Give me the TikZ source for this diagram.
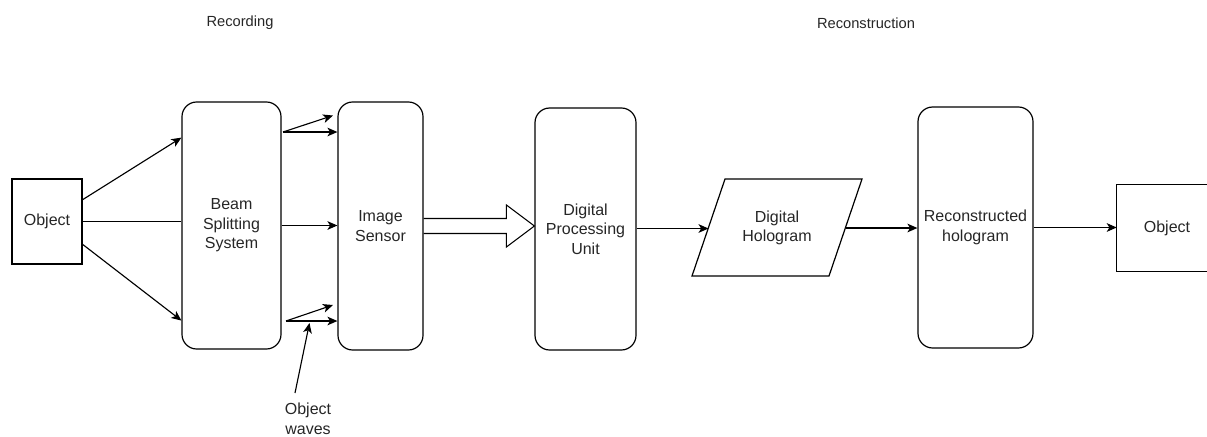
\documentclass[tikz,border=0pt]{standalone}
\usepackage{fontspec}
\setmainfont{Liberation Sans}
\usetikzlibrary{arrows.meta,calc}
\begin{document}
\begin{tikzpicture}[x=0.75pt,y=-0.75pt,
  every node/.style={text=black!85, font=\fontsize{12}{14.6}\selectfont, align=center, inner sep=0pt},
  box/.style={draw, line width=0.9pt, rectangle},
  rbox/.style={draw, line width=0.9pt, rectangle, rounded corners=11pt},
  conn/.style={line width=0.85pt, -{Stealth[length=7.5pt,width=6.5pt,inset=2pt]}},
  plain/.style={line width=0.85pt},
  title/.style={font=\fontsize{11}{13}\selectfont}
]
\useasboundingbox (0,0) rectangle (1207,436);

% titles
\node[title] (trec) at (240,23) {Recording};
\node[title] (trecon) at (866,23) {Reconstruction};

% nodes
\node[box, minimum width=52.5pt, minimum height=63.75pt] (objL) at (47,221.5) {Object};
\node[rbox, minimum width=74.25pt, minimum height=185.25pt] (beam) at (231.5,225.5) {Beam\\Splitting\\System};
\node[rbox, minimum width=63.75pt, minimum height=186pt] (sensor) at (380.5,226) {Image\\Sensor};
\node[rbox, minimum width=75.75pt, minimum height=181.5pt] (dpu) at (585.5,229) {Digital\\Processing\\Unit};
\draw[line width=0.9pt] (725,179) -- (862,179) -- (829,276) -- (692,276) -- cycle;
\node (holo) at (777,228) {Digital\\Hologram};
\node[rbox, minimum width=86.25pt, minimum height=180.75pt] (recon) at (975.5,227.5) {Reconstructed\\hologram};
\node[minimum width=75pt, minimum height=64.5pt] (objR) at (1167,228) {Object};
\draw[line width=0.9pt] (objR.north east) -- (objR.north west) -- (objR.south west) -- (objR.south east);
\node (waves) at (308,419) {Object\\waves};

% helper coordinates
\coordinate (holoL) at (708.5,228.5);
\coordinate (holoR) at (846,228);
\coordinate (tA) at (283,132);
\coordinate (tAup) at (333,115.5);
\coordinate (tB) at (286,321);
\coordinate (tBup) at (333,305);
\coordinate (wS) at (295,393);
\coordinate (wT) at (309.5,323);

% object -> beam splitter
\draw[conn] ($(objL.north east)!0.247!(objL.south east)$) -- ($(beam.north west)!0.146!(beam.south west)$);
\draw[plain] (objL.east) -- (objL.east -| beam.west);
\draw[conn] ($(objL.north east)!0.765!(objL.south east)$) -- ($(beam.north west)!0.883!(beam.south west)$);

% beam splitter -> sensor
\draw[conn] (tA) -- (tAup);
\draw[conn] (tA) -- (tA -| sensor.west);
\draw[conn] (beam.east) -- (beam.east -| sensor.west);
\draw[conn] (tB) -- (tBup);
\draw[conn] (tB) -- (tB -| sensor.west);
\draw[conn] (wS) -- (wT);

% hollow arrow sensor -> dpu
\coordinate (tip) at (sensor.east -| dpu.west);
\draw[line width=0.8pt, line join=miter]
  ($(sensor.east)+(0,-7.5)$) -- ($(tip)+(-28,-7.5)$) -- ($(tip)+(-28,-21)$) -- (tip)
  -- ($(tip)+(-28,21)$) -- ($(tip)+(-28,7.5)$) -- ($(sensor.east)+(0,7.5)$);

% reconstruction chain
\draw[conn] (dpu.east |- holoL) -- (holoL);
\draw[conn] (holoR) -- (holoR -| recon.west);
\draw[conn] (recon.east) -- (recon.east -| objR.west);
\end{tikzpicture}
\end{document}
